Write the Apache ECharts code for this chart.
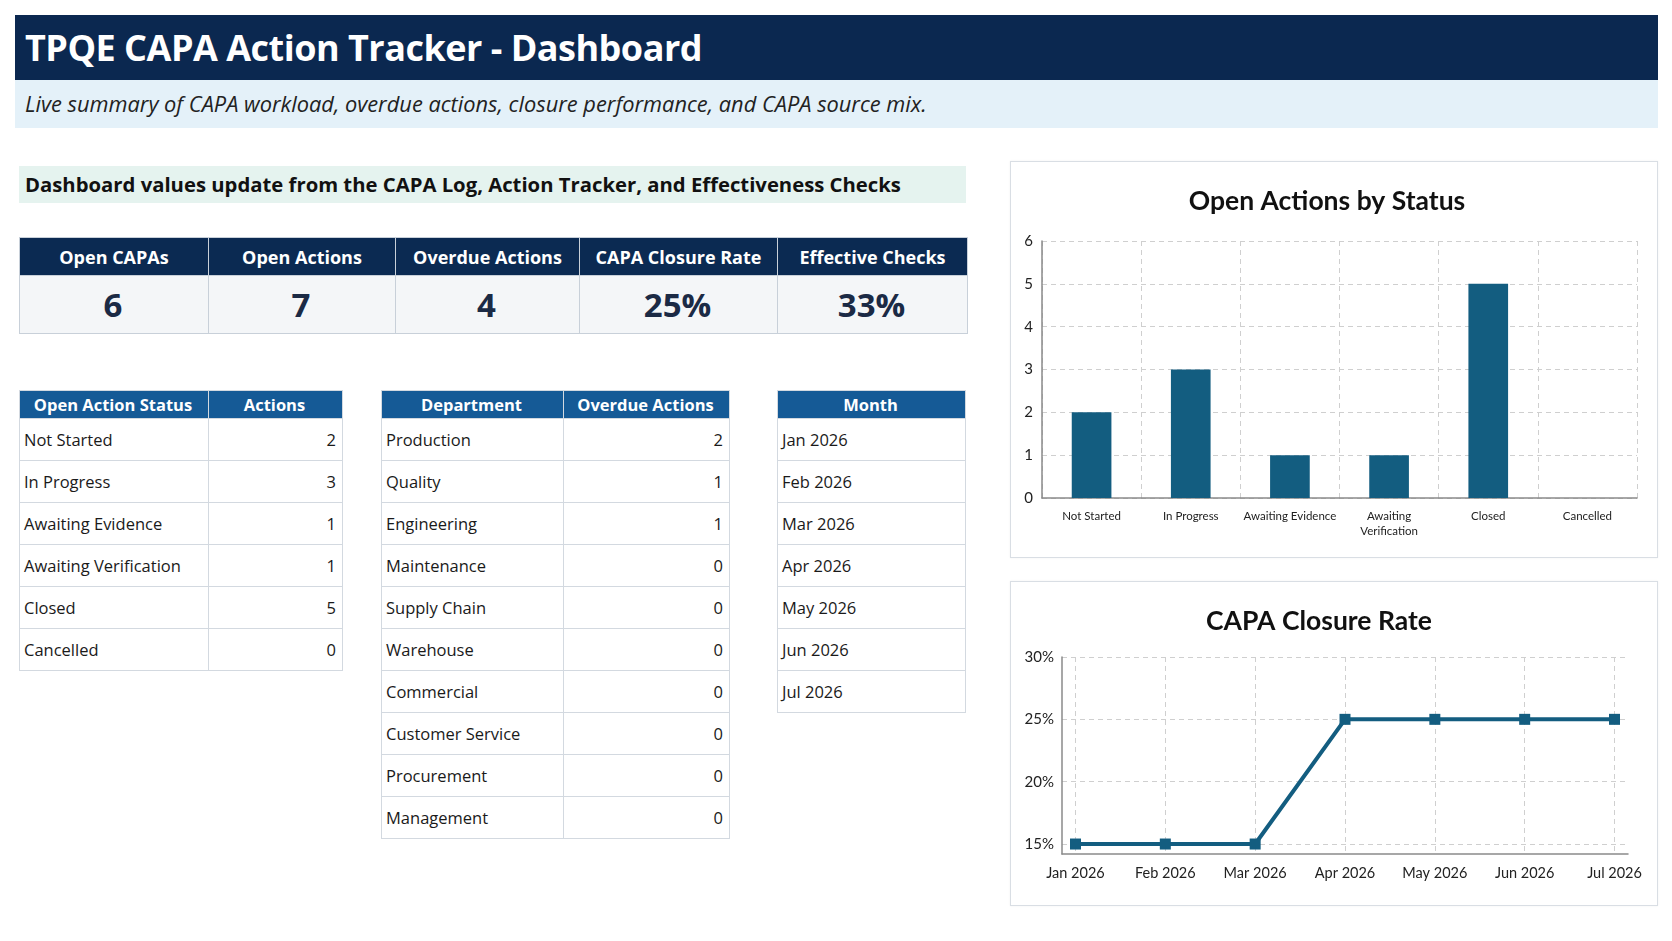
<!DOCTYPE html>
<html>
<head>
<meta charset="utf-8">
<title>TPQE CAPA Action Tracker - Dashboard</title>
<script src="https://cdn.jsdelivr.net/npm/echarts@6/dist/echarts.min.js"></script>
<style>
  html, body { margin: 0; padding: 0; background: #fff; }
  body { width: 1672px; height: 941px; position: relative; overflow: hidden; font-family: "Open Sans", "Noto Sans", sans-serif; color: #1a1a1a; }
  .abs { position: absolute; box-sizing: border-box; }
  #hdr { left: 15px; top: 15px; width: 1643px; height: 65px; background: #0b2850; color: #fff; font-weight: 700; font-size: 36px; line-height: 65px; padding-left: 10px; letter-spacing: -0.5px; }
  #sub { left: 15px; top: 80px; width: 1643px; height: 48px; background: #e4f1f9; font-style: italic; font-size: 21.8px; line-height: 48px; padding-left: 10px; color: #222; }
  #note { left: 19px; top: 166px; width: 947px; height: 37px; background: #e5f3ef; font-weight: 700; font-size: 20.3px; line-height: 37px; padding-left: 6px; color: #111; }
  table { border-collapse: collapse; table-layout: fixed; }
  td, th { border: 1px solid #d3d9e0; padding: 0 6px 0 4px; overflow: hidden; white-space: nowrap; }
  #kpi th { background: #0b2a52; color: #fff; font-size: 18px; font-weight: 700; height: 37px; border-color: #c8d0d9; padding: 0 4px; }
  #kpi td { background: #f4f6f8; color: #1b2a45; font-size: 33px; font-weight: 700; height: 57px; text-align: center; border-color: #c8d0d9; }
  .tbl th { background: #155a96; color: #fff; font-size: 16.5px; font-weight: 700; height: 27px; text-align: center; }
  .tbl td { font-size: 16.5px; height: 41px; background: #fff; }
  .tbl td.n { text-align: right; }
  .panel { background: #fff; border: 1px solid #d9dee4; box-shadow: 0 0 2px rgba(0,0,0,0.06); }
</style>
</head>
<body>
<div id="hdr" class="abs">TPQE CAPA Action Tracker - Dashboard</div>
<div id="sub" class="abs">Live summary of CAPA workload, overdue actions, closure performance, and CAPA source mix.</div>
<div id="note" class="abs">Dashboard values update from the CAPA Log, Action Tracker, and Effectiveness Checks</div>
<table id="kpi" class="abs" style="left:19px;top:237px;width:948px"></table>
<table id="statusTbl" class="abs tbl" style="left:19px;top:390px;width:323px"></table>
<table id="deptTbl" class="abs tbl" style="left:381px;top:390px;width:348px"></table>
<table id="monthTbl" class="abs tbl" style="left:777px;top:390px;width:188px"></table>
<div id="barPanel" class="abs panel" style="left:1010px;top:161px;width:648px;height:397px"></div>
<div id="linePanel" class="abs panel" style="left:1010px;top:581px;width:648px;height:325px"></div>
<script>
// KPI cards
var kpiLabels = ['Open CAPAs', 'Open Actions', 'Overdue Actions', 'CAPA Closure Rate', 'Effective Checks'];
var kpiValues = ['6', '7', '4', '25%', '33%'];
var kpiWidths = [189, 187, 184, 198, 190];

// Open actions by status
var statusNames = ['Not Started', 'In Progress', 'Awaiting Evidence', 'Awaiting Verification', 'Closed', 'Cancelled'];
var statusCounts = [2, 3, 1, 1, 5, 0];
var statusAxisLabels = ['Not Started', 'In Progress', 'Awaiting Evidence', 'Awaiting\nVerification', 'Closed', 'Cancelled'];

// Overdue actions by department
var departments = ['Production', 'Quality', 'Engineering', 'Maintenance', 'Supply Chain', 'Warehouse', 'Commercial', 'Customer Service', 'Procurement', 'Management'];
var overdueCounts = [2, 1, 1, 0, 0, 0, 0, 0, 0, 0];

// CAPA closure rate by month
var months = ['Jan 2026', 'Feb 2026', 'Mar 2026', 'Apr 2026', 'May 2026', 'Jun 2026', 'Jul 2026'];
var closureRates = [0.15, 0.15, 0.15, 0.25, 0.25, 0.25, 0.25];
var rateTicks = [0.15, 0.20, 0.25, 0.30];

function esc(s) { return String(s).replace(/&/g, '&amp;').replace(/</g, '&lt;'); }

var kpiHtml = '<colgroup>' + kpiWidths.map(function (w) { return '<col style="width:' + w + 'px">'; }).join('') + '</colgroup>';
kpiHtml += '<tr>' + kpiLabels.map(function (l) { return '<th>' + esc(l) + '</th>'; }).join('') + '</tr>';
kpiHtml += '<tr>' + kpiValues.map(function (v) { return '<td>' + esc(v) + '</td>'; }).join('') + '</tr>';
document.getElementById('kpi').innerHTML = kpiHtml;

function buildTable(id, heads, widths, names, vals) {
  var h = '<colgroup>' + widths.map(function (w) { return '<col style="width:' + w + 'px">'; }).join('') + '</colgroup>';
  h += '<tr>' + heads.map(function (t) { return '<th>' + esc(t) + '</th>'; }).join('') + '</tr>';
  names.forEach(function (n, i) {
    h += '<tr><td>' + esc(n) + '</td>' + (vals ? '<td class="n">' + vals[i] + '</td>' : '') + '</tr>';
  });
  document.getElementById(id).innerHTML = h;
}
buildTable('statusTbl', ['Open Action Status', 'Actions'], [189, 134], statusNames, statusCounts);
buildTable('deptTbl', ['Department', 'Overdue Actions'], [182, 166], departments, overdueCounts);
buildTable('monthTbl', ['Month'], [188], months, null);

var barColor = '#135d80';
var gridLine = { show: true, lineStyle: { color: '#cfcfcf', type: [5, 4], width: 1 } };
var chartFont = 'Lato, "Open Sans", sans-serif';

var barChart = echarts.init(document.getElementById('barPanel'));
var barOption = {
  animation: false,
  textStyle: { fontFamily: chartFont },
  title: {
    text: 'Open Actions by Status',
    left: 311,
    top: 21,
    textAlign: 'center',
    textStyle: { fontFamily: chartFont, fontSize: 26.5, fontWeight: 'bold', color: '#111' }
  },
  grid: { left: 31, right: 20, top: 79, bottom: 59 },
  xAxis: {
    type: 'category',
    data: statusAxisLabels,
    axisLine: { lineStyle: { color: '#8a8a8a', width: 1.5 } },
    axisTick: { show: false },
    axisLabel: { color: '#222', fontSize: 11.5, margin: 11, interval: 0, lineHeight: 15 },
    splitLine: gridLine
  },
  yAxis: {
    type: 'value',
    min: 0,
    max: 6,
    interval: 1,
    axisLine: { show: true, lineStyle: { color: '#8a8a8a', width: 1.5 } },
    axisTick: { show: false },
    axisLabel: { color: '#222', fontSize: 15, margin: 9 },
    splitLine: gridLine
  },
  series: [{
    type: 'bar',
    data: statusCounts,
    barWidth: '40%',
    itemStyle: { color: barColor }
  }]
};
barChart.setOption(barOption);

var lineChart = echarts.init(document.getElementById('linePanel'));
var monthIdx = months.map(function (m, i) { return i; });
var lineOption = {
  animation: false,
  textStyle: { fontFamily: chartFont },
  title: {
    text: 'CAPA Closure Rate',
    left: 303,
    top: 21,
    textAlign: 'center',
    textStyle: { fontFamily: chartFont, fontSize: 26.5, fontWeight: 'bold', color: '#111' }
  },
  grid: { left: 51, right: 29, top: 75, bottom: 51 },
  xAxis: {
    type: 'value',
    min: -0.15,
    max: 6.15,
    axisLine: { show: true, onZero: false, lineStyle: { color: '#8a8a8a', width: 1.5 } },
    axisTick: { show: false, customValues: monthIdx },
    axisLabel: { customValues: monthIdx, color: '#222', fontSize: 14.5, margin: 12, formatter: function (v) { return months[Math.round(v)]; } },
    splitLine: { show: true, customValues: monthIdx, lineStyle: { color: '#cfcfcf', type: [5, 4], width: 1 } }
  },
  yAxis: {
    type: 'value',
    min: 0.142,
    max: 0.30,
    axisLine: { show: true, onZero: false, lineStyle: { color: '#8a8a8a', width: 1.5 } },
    axisTick: { show: false, customValues: rateTicks },
    axisLabel: { customValues: rateTicks, color: '#222', fontSize: 15, margin: 8, formatter: function (v) { return Math.round(v * 100) + '%'; } },
    splitLine: { show: true, customValues: rateTicks, lineStyle: { color: '#cfcfcf', type: [5, 4], width: 1 } }
  },
  series: [{
    type: 'line',
    data: closureRates.map(function (v, i) { return [monthIdx[i], v]; }),
    symbol: 'rect',
    symbolSize: 11,
    lineStyle: { color: barColor, width: 4 },
    itemStyle: { color: barColor }
  }]
};
lineChart.setOption(lineOption);
</script>
</body>
</html>
